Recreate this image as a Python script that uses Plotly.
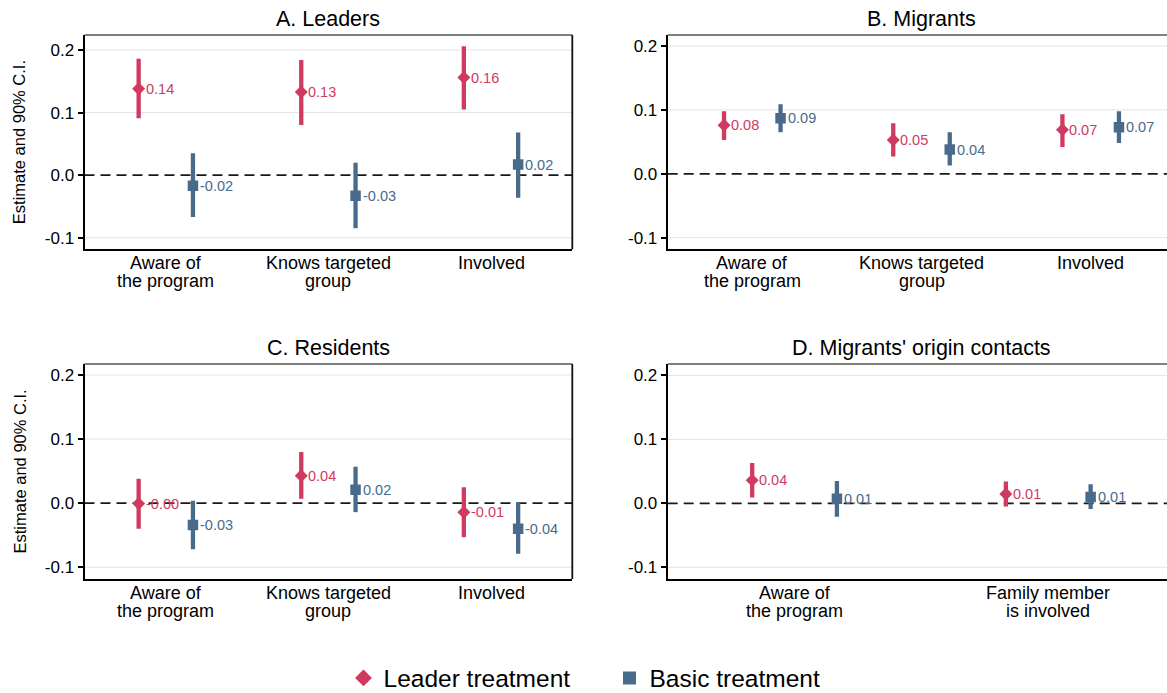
import plotly.graph_objects as go

# ---------------- data ----------------
cats_abc = ["Aware of<br>the program", "Knows targeted<br>group", "Involved"]
cats_d = ["Aware of<br>the program", "Family member<br>is involved"]

# A. Leaders
a_leader_est = [0.138, 0.133, 0.156]
a_leader_lo = [0.091, 0.080, 0.105]
a_leader_hi = [0.186, 0.184, 0.206]
a_basic_est = [-0.017, -0.033, 0.017]
a_basic_lo = [-0.067, -0.085, -0.036]
a_basic_hi = [0.035, 0.020, 0.068]

# B. Migrants
b_leader_est = [0.076, 0.053, 0.069]
b_leader_lo = [0.053, 0.027, 0.042]
b_leader_hi = [0.098, 0.079, 0.093]
b_basic_est = [0.087, 0.038, 0.073]
b_basic_lo = [0.065, 0.013, 0.048]
b_basic_hi = [0.109, 0.065, 0.098]

# C. Residents
c_leader_est = [-0.0006, 0.043, -0.014]
c_leader_lo = [-0.040, 0.007, -0.053]
c_leader_hi = [0.038, 0.080, 0.025]
c_basic_est = [-0.034, 0.021, -0.040]
c_basic_lo = [-0.072, -0.014, -0.079]
c_basic_hi = [0.004, 0.057, 0.001]

# D. Migrants' origin contacts
d_leader_est = [0.036, 0.0145]
d_leader_lo = [0.009, -0.005]
d_leader_hi = [0.063, 0.034]
d_basic_est = [0.007, 0.010]
d_basic_lo = [-0.021, -0.009]
d_basic_hi = [0.035, 0.030]

ytick_vals = [-0.1, 0.0, 0.1, 0.2]
ytick_text = ["-0.1", "0.0", "0.1", "0.2"]

# ---------------- style ----------------
W, H = 1167, 693
FONT = "Liberation Sans, Arial, Helvetica, sans-serif"
RED = "#D03A5F"
BLUE = "#496B8B"
OFFSET = 0.167


def fx(p):
    return p / W


def fy(p):
    return 1 - p / H


panels = [
    dict(title="A. Leaders", cats=cats_abc,
         leader=(a_leader_est, a_leader_lo, a_leader_hi),
         basic=(a_basic_est, a_basic_lo, a_basic_hi),
         xpx=(84.5, 572.3), ypx=(35, 249.3), xr=[0.5, 3.5], yr=[-0.1185, 0.224],
         left=True, title_x=328.4, title_y=19),
    dict(title="B. Migrants", cats=cats_abc,
         leader=(b_leader_est, b_leader_lo, b_leader_hi),
         basic=(b_basic_est, b_basic_lo, b_basic_hi),
         xpx=(667.7, 1167), ypx=(35, 249.3), xr=[0.5, 3.451], yr=[-0.1182, 0.2172],
         left=False, title_x=921, title_y=19),
    dict(title="C. Residents", cats=cats_abc,
         leader=(c_leader_est, c_leader_lo, c_leader_hi),
         basic=(c_basic_est, c_basic_lo, c_basic_hi),
         xpx=(84.5, 572.3), ypx=(364, 579), xr=[0.5, 3.5], yr=[-0.1183, 0.2172],
         left=True, title_x=328.4, title_y=348),
    dict(title="D. Migrants' origin contacts", cats=cats_d,
         leader=(d_leader_est, d_leader_lo, d_leader_hi),
         basic=(d_basic_est, d_basic_lo, d_basic_hi),
         xpx=(667.7, 1167), ypx=(364, 579), xr=[0.5, 2.468], yr=[-0.1183, 0.2178],
         left=False, title_x=921, title_y=348),
]

fig = go.Figure()
annotations = []
shapes = []
layout_axes = {}

for i, p in enumerate(panels):
    n = "" if i == 0 else str(i + 1)
    xn, yn = "x" + n, "y" + n
    ncat = len(p["cats"])
    pos = list(range(1, ncat + 1))
    x0, x1 = p["xpx"]
    y0, y1 = p["ypx"]

    # gridlines (below everything)
    for gv in ytick_vals:
        if gv != 0:
            shapes.append(dict(type="line", xref=xn + " domain", yref=yn, x0=0, x1=1,
                               y0=gv, y1=gv, layer="below",
                               line=dict(color="#e4e4e4", width=1)))
    # zero reference line
    shapes.append(dict(type="line", xref=xn + " domain", yref=yn, x0=0, x1=1,
                       y0=0, y1=0, layer="below",
                       line=dict(color="#1a1a1a", width=1.8, dash="10px,6px")))

    for series, col, sym, size, sgn in [
        (p["leader"], RED, "diamond", 10, -1),
        (p["basic"], BLUE, "square", 10.5, 1),
    ]:
        est, lo, hi = series
        xs = [c + sgn * OFFSET for c in pos]
        cx, cy = [], []
        for x, l, h in zip(xs, lo, hi):
            cx += [x, x, None]
            cy += [l, h, None]
        fig.add_trace(go.Scatter(x=cx, y=cy, mode="lines", xaxis=xn, yaxis=yn,
                                 line=dict(color=col, width=4.3), showlegend=False,
                                 hoverinfo="skip"))
        fig.add_trace(go.Scatter(x=xs, y=est, mode="markers", xaxis=xn, yaxis=yn,
                                 marker=dict(symbol=sym, size=size, color=col,
                                             line=dict(width=0)),
                                 showlegend=False))
        for x, v in zip(xs, est):
            annotations.append(dict(x=x, y=v, xref=xn, yref=yn, text=f"{v:.2f}",
                                    showarrow=False, xanchor="left", yanchor="middle",
                                    xshift=5, font=dict(size=14.5, color=col, family=FONT)))

    # category labels (two tight lines each, as in the original)
    for c, lab in zip(pos, p["cats"]):
        for k, line in enumerate(lab.split("<br>")):
            annotations.append(dict(x=c, y=fy(y1 + 14 + 18 * k), xref=xn, yref="paper",
                                    text=line, showarrow=False, xanchor="center",
                                    yanchor="middle", borderpad=0,
                                    font=dict(size=18, color="black", family=FONT)))

    layout_axes["xaxis" + n] = dict(
        domain=[fx(x0), fx(x1)], range=p["xr"], anchor=yn,
        tickvals=pos, showticklabels=False, ticks="", showgrid=False, zeroline=False,
        showline=True, linecolor="black", linewidth=2, fixedrange=True)
    layout_axes["yaxis" + n] = dict(
        domain=[fy(y1), fy(y0)], range=p["yr"], anchor=xn,
        tickvals=ytick_vals, ticktext=ytick_text, ticks="outside", ticklen=5,
        tickwidth=1.5, tickcolor="black", showgrid=False, zeroline=False,
        showline=True, linecolor="black", linewidth=2,
        tickfont=dict(size=17, color="black", family=FONT), fixedrange=True)

    # top border
    shapes.append(dict(type="line", xref="paper", yref="paper", x0=fx(x0), x1=fx(x1),
                       y0=fy(y0), y1=fy(y0), line=dict(color="#555555", width=1.5)))
    if p["left"]:
        shapes.append(dict(type="line", xref="paper", yref="paper", x0=fx(x1), x1=fx(x1),
                           y0=fy(y0), y1=fy(y1), line=dict(color="#111111", width=1.8)))
        annotations.append(dict(x=fx(19), y=fy((y0 + y1) / 2), xref="paper", yref="paper",
                                text="Estimate and 90% C.I.", textangle=-90,
                                showarrow=False, xanchor="center", yanchor="middle",
                                font=dict(size=16.5, color="black", family=FONT)))
    annotations.append(dict(x=fx(p["title_x"]), y=fy(p["title_y"]), xref="paper",
                            yref="paper", text=p["title"], showarrow=False,
                            xanchor="center", yanchor="middle",
                            font=dict(size=21.5, color="black", family=FONT)))

# legend entries
fig.add_trace(go.Scatter(x=[None], y=[None], mode="markers", name="Leader treatment",
                         marker=dict(symbol="diamond", size=13, color=RED)))
fig.add_trace(go.Scatter(x=[None], y=[None], mode="markers", name="Basic treatment",
                         marker=dict(symbol="square", size=13, color=BLUE)))

fig.update_layout(
    width=W, height=H, margin=dict(l=0, r=0, t=0, b=0, autoexpand=False),
    paper_bgcolor="white", plot_bgcolor="white",
    font=dict(family=FONT, color="black"),
    annotations=annotations, shapes=shapes,
    legend=dict(orientation="h", x=fx(343.5), xanchor="left", y=fy(678), yanchor="middle",
                font=dict(size=24.5, color="black", family=FONT),
                itemsizing="trace", entrywidth=221, bgcolor="rgba(0,0,0,0)"),
    **layout_axes,
)

fig.write_html("out.html")
